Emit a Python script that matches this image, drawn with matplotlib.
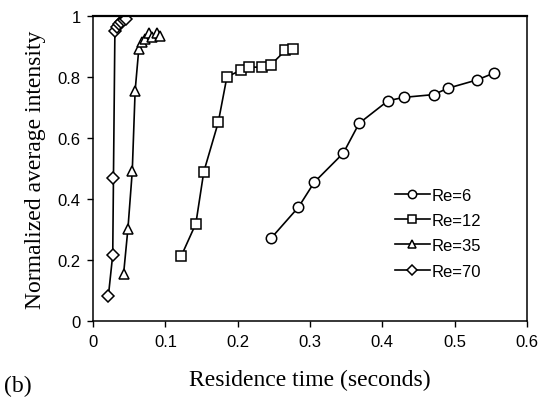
import matplotlib.pyplot as plt

# residence time (s) and normalized intensity for each Reynolds number
re6_t = [0.246, 0.284, 0.306, 0.346, 0.368, 0.408, 0.430, 0.471, 0.491, 0.531, 0.554]
re6_i = [0.271, 0.373, 0.455, 0.550, 0.648, 0.722, 0.733, 0.742, 0.763, 0.790, 0.812]

re12_t = [0.122, 0.142, 0.153, 0.173, 0.185, 0.205, 0.216, 0.234, 0.246, 0.266, 0.277]
re12_i = [0.214, 0.319, 0.489, 0.651, 0.800, 0.823, 0.832, 0.832, 0.840, 0.887, 0.891]

re35_t = [0.042, 0.048, 0.054, 0.058, 0.063, 0.068, 0.072, 0.077, 0.082, 0.088, 0.092]
re35_i = [0.154, 0.302, 0.490, 0.755, 0.890, 0.915, 0.925, 0.945, 0.930, 0.945, 0.935]

re70_t = [0.021, 0.027, 0.028, 0.030, 0.033, 0.036, 0.039, 0.042, 0.045]
re70_i = [0.083, 0.217, 0.469, 0.952, 0.965, 0.975, 0.980, 0.985, 0.990]

series = [("Re=6", re6_t, re6_i, "o"),
          ("Re=12", re12_t, re12_i, "s"),
          ("Re=35", re35_t, re35_i, "^"),
          ("Re=70", re70_t, re70_i, "D")]

fig = plt.figure(figsize=(5.42, 4.02), dpi=100)
ax = fig.add_axes([0.172, 0.199, 0.8, 0.759])

for name, t, v, m in series:
    ms = 6 if m == "D" else 7.5
    ax.plot(t, v, color="black", lw=1.2, marker=m, ms=ms,
            mfc="white", mec="black", mew=1.1, label=name)

ax.set_xlim(0, 0.6)
ax.set_ylim(0, 1)
ax.set_xticks([0, 0.1, 0.2, 0.3, 0.4, 0.5, 0.6])
ax.set_xticklabels(["0", "0.1", "0.2", "0.3", "0.4", "0.5", "0.6"])
ax.set_yticks([0, 0.2, 0.4, 0.6, 0.8, 1])
ax.set_yticklabels(["0", "0.2", "0.4", "0.6", "0.8", "1"])
ax.tick_params(direction="out", length=4, width=1, labelsize=12, pad=5)
for lab in ax.get_xticklabels() + ax.get_yticklabels():
    lab.set_family("Liberation Sans")
for s in ax.spines.values():
    s.set_linewidth(1.1)
ax.spines["top"].set_linewidth(1.6)

ax.set_xlabel("Residence time (seconds)", family="Liberation Serif", fontsize=17, labelpad=15)
ax.set_ylabel("Normalized average intensity", family="Liberation Serif", fontsize=17, labelpad=8)
fig.text(0.008, 0.025, "(b)", family="Liberation Serif", fontsize=17)

leg = ax.legend(loc="upper left", bbox_to_anchor=(0.695, 0.437), frameon=False,
                borderaxespad=0, borderpad=0, markerscale=0.8,
                prop={"family": "Liberation Sans", "size": 12},
                handlelength=2.1, handletextpad=0.1, labelspacing=0.62)

fig.savefig("out.png", dpi=100)
